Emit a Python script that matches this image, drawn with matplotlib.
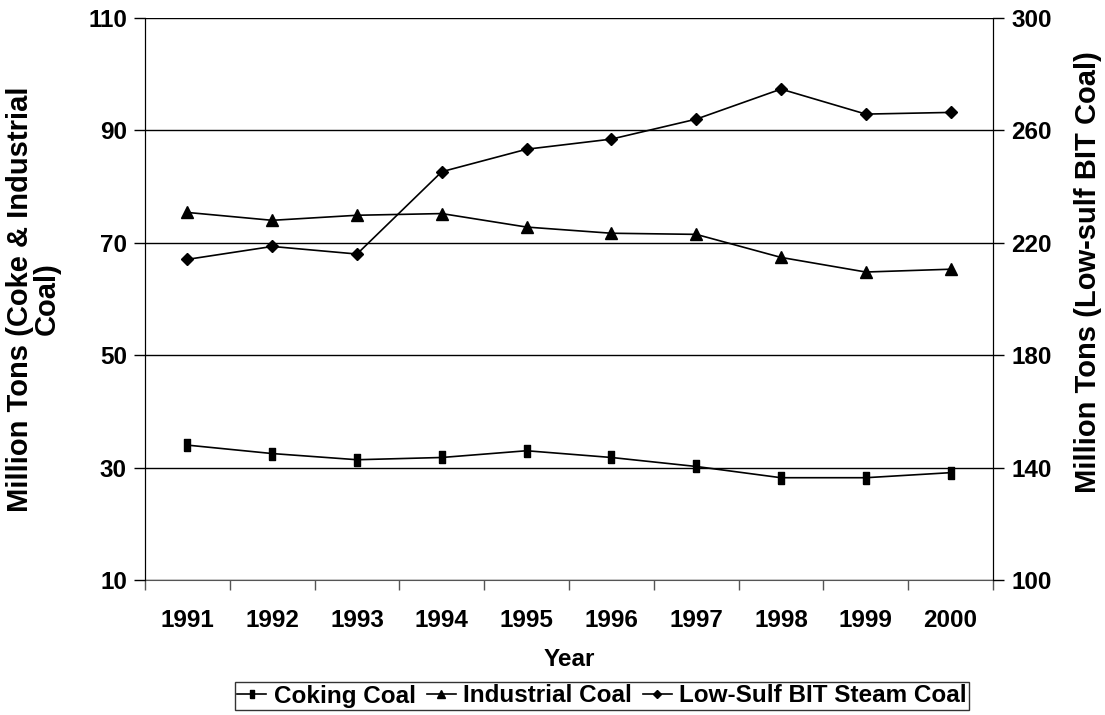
import matplotlib
matplotlib.use("Agg")
import matplotlib.pyplot as plt
from matplotlib.ticker import FixedLocator

years = ["1991", "1992", "1993", "1994", "1995", "1996", "1997", "1998", "1999", "2000"]
coking = [34.0, 32.5, 31.4, 31.8, 33.0, 31.8, 30.2, 28.2, 28.2, 29.1]
industrial = [75.4, 74.0, 74.9, 75.2, 72.8, 71.7, 71.5, 67.4, 64.8, 65.3]
lowsulf = [214.1, 218.7, 216.0, 245.3, 253.3, 256.9, 264.0, 274.7, 265.8, 266.4]

left_ticks = [10, 30, 50, 70, 90, 110]
right_ticks = [100, 140, 180, 220, 260, 300]

plt.rcParams['font.family'] = ['Liberation Sans', 'DejaVu Sans']
plt.rcParams['font.weight'] = 'bold'
FS = 17.5
LFS = 21

fig = plt.figure(figsize=(11.05, 7.15), dpi=100)
W, H = 1105, 715
ax = fig.add_axes([145 / W, (H - 580) / H, 848 / W, 562 / H])
ax2 = ax.twinx()

x = list(range(1, len(years) + 1))
rect = [(-0.55, -1), (0.55, -1), (0.55, 1), (-0.55, 1), (-0.55, -1)]
l1, = ax.plot(x, coking, color='black', lw=1.2, marker=rect, markersize=9, label='Coking Coal')
l2, = ax.plot(x, industrial, color='black', lw=1.2, marker='^', markersize=8, label='Industrial Coal')
l3, = ax2.plot(x, lowsulf, color='black', lw=1.2, marker='D', markersize=6, label='Low-Sulf BIT Steam Coal')

ax.set_xlim(0.5, len(years) + 0.5)
ax.set_ylim(10, 110)
ax2.set_ylim(100, 300)
ax.set_yticks(left_ticks)
ax2.set_yticks(right_ticks)
ax.set_xticks(x)
ax.set_xticklabels(years, fontsize=FS, fontweight='bold')
ax.xaxis.set_minor_locator(FixedLocator([i + 0.5 for i in range(0, len(years) + 1)]))
ax.tick_params(axis='x', which='major', length=0, pad=21)
ax.tick_params(axis='x', which='minor', length=7, width=1, direction='out', color='#555555')
ax.tick_params(axis='y', length=8, width=1, direction='out', labelsize=FS, pad=5)
ax2.tick_params(axis='y', length=8, width=1, direction='out', labelsize=FS, pad=5)
for lab in ax.get_yticklabels() + ax2.get_yticklabels():
    lab.set_fontweight('bold')

ax.grid(axis='y', color='black', lw=1)
ax.set_axisbelow(True)
for s in ['top']:
    ax.spines[s].set_visible(False)
    ax2.spines[s].set_visible(False)
ax.spines['bottom'].set_color('#555555')
ax2.spines['bottom'].set_visible(False)

ax.set_xlabel('Year', fontsize=FS, fontweight='bold')
ax.xaxis.set_label_coords(0.5, -(660 - 580) / 562, transform=ax.transAxes)
ax.xaxis.label.set_va('center')
ax.set_ylabel('Million Tons (Coke & Industrial\nCoal)', fontsize=LFS, fontweight='bold',
              linespacing=0.95)
ax.yaxis.set_label_coords(-(145 - 33) / 848, 0.5)
ax.yaxis.label.set_va('center')
ax2.set_ylabel('Million Tons (Low-sulf BIT Coal)', fontsize=LFS, fontweight='bold')
ax2.yaxis.set_label_coords(1 + (1088 - 993) / 848, (580 - 272) / 562)
ax2.yaxis.label.set_va('center')
ax2.yaxis.label.set_ha('center')

leg = fig.legend(handles=[l1, l2, l3], loc='center', bbox_to_anchor=((237 + 967) / 2 / W, 1 - 696 / H),
                 ncol=3, frameon=True, fancybox=False, edgecolor='black',
                 handlelength=1.2, handletextpad=0.3, columnspacing=0.45, borderpad=0.1,
                 borderaxespad=0.1, markerscale=0.7, prop={'weight': 'bold', 'size': FS})
leg.get_frame().set_linewidth(1)

fig.savefig('out.png', dpi=100)
